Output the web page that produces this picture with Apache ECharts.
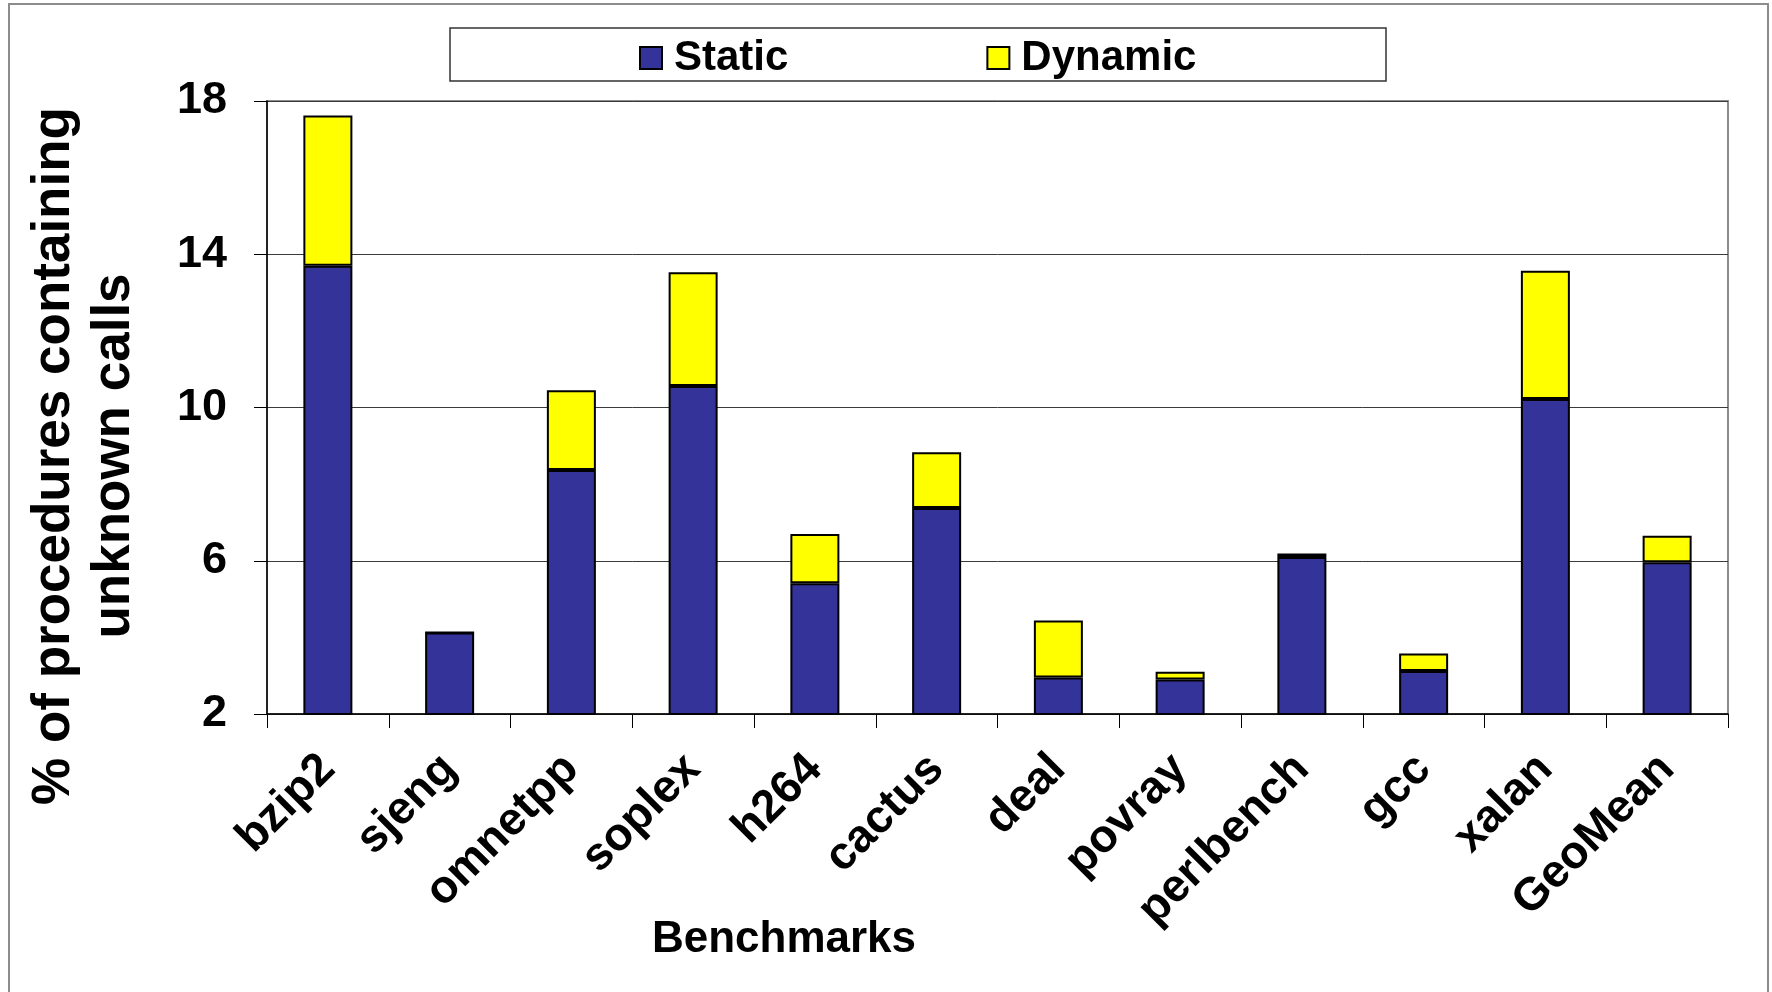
<!DOCTYPE html>
<html>
<head>
<meta charset="utf-8">
<script src="https://cdn.jsdelivr.net/npm/echarts@6/dist/echarts.min.js"></script>
<style>
html,body{margin:0;padding:0;background:#fff;}
#chart{width:1772px;height:992px;}
</style>
</head>
<body>
<div id="chart"></div>
<script>
const categories = ['bzip2','sjeng','omnetpp','soplex','h264','cactus','deal','povray','perlbench','gcc','xalan','GeoMean'];
const staticVals  = [13.70, 4.13, 8.37, 10.56, 5.41, 7.38, 2.95, 2.90, 6.10, 3.12, 10.22, 5.96];
const dynamicVals = [3.92, 0.00, 2.08, 2.97, 1.29, 1.45, 1.49, 0.20, 0.09, 0.46, 3.35, 0.69];
const seriesNames = ['Static', 'Dynamic'];
const yMin = 2, yMax = 18, yStep = 4;
const yTitle = '% of procedures containing\nunknown calls';
const xTitle = 'Benchmarks';

const FONT = "'Liberation Sans', Arial, sans-serif";
const chart = echarts.init(document.getElementById('chart'), null, {renderer: 'canvas'});

const option = {
  backgroundColor: '#fff',
  animation: false,
  grid: {
    left: 267, right: 44, top: 101, bottom: 278,
    show: true, borderColor: '#8c8c8c', borderWidth: 2, backgroundColor: 'transparent'
  },
  legend: {
    left: 634, top: 32,
    itemWidth: 22, itemHeight: 22, itemGap: 198,
    icon: 'rect',
    textStyle: {fontFamily: FONT, fontWeight: 'bold', fontSize: 42, color: '#000', padding: [0,0,0,7]},
    data: seriesNames
  },
  xAxis: {
    type: 'category',
    data: categories,
    axisLine: {lineStyle: {color: '#000', width: 1.5}},
    axisTick: {show: true, length: 14, lineStyle: {color: '#000', width: 1}},
    axisLabel: {
      rotate: 45, interval: 0, margin: 48,
      fontFamily: FONT, fontWeight: 'bold', fontSize: 46, color: '#000'
    }
  },
  yAxis: {
    type: 'value',
    min: yMin, max: yMax, interval: yStep,
    axisLine: {show: true, lineStyle: {color: '#000', width: 1.5}},
    axisTick: {show: true, length: 13, lineStyle: {color: '#000', width: 1}},
    splitLine: {show: true, lineStyle: {color: '#3a3a3a', width: 1}},
    axisLabel: {margin: 40, fontFamily: FONT, fontWeight: 'bold', fontSize: 45, color: '#000'}
  },
  graphic: [
    {type: 'rect', shape: {x: 9, y: 4, width: 1759, height: 1000}, style: {fill: 'none', stroke: '#8c8c8c', lineWidth: 2}, z: -10, silent: true},
    {type: 'rect', shape: {x: 450, y: 28, width: 936, height: 53}, style: {fill: 'none', stroke: '#333', lineWidth: 1.5}, z: 1, silent: true},
    {type: 'text', x: 84, y: 456, rotation: Math.PI / 2,
      style: {text: yTitle, fontFamily: FONT, fontWeight: 'bold', fontSize: 53, lineHeight: 60,
        fill: '#000', align: 'center', verticalAlign: 'middle'}},
    {type: 'text', x: 784, y: 940,
      style: {text: xTitle, fontFamily: FONT, fontWeight: 'bold', fontSize: 44,
        fill: '#000', align: 'center', verticalAlign: 'middle'}}
  ],
  series: [
    {
      name: seriesNames[0], type: 'bar', stack: 'total', data: staticVals,
      barWidth: 49, clip: true,
      itemStyle: {color: '#333399', borderColor: '#000', borderWidth: 2}
    },
    {
      name: seriesNames[1], type: 'bar', stack: 'total', data: dynamicVals,
      barWidth: 49, clip: true,
      itemStyle: {color: '#ffff00', borderColor: '#000', borderWidth: 2}
    }
  ]
};
chart.setOption(option);
</script>
</body>
</html>
